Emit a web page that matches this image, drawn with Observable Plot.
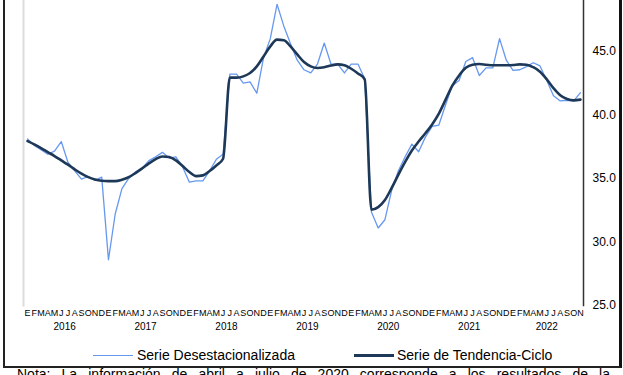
<!DOCTYPE html>
<html>
<head>
<meta charset="utf-8">
<script src="https://cdn.jsdelivr.net/npm/d3@7"></script>
<script src="https://cdn.jsdelivr.net/npm/@observablehq/plot@0.6"></script>
<style>
  html, body { margin: 0; padding: 0; background: #fff; overflow: hidden; }
  body { font-family: "Liberation Sans", Arial, sans-serif; color: #000; }
  #wrap { position: relative; width: 623px; height: 375px; overflow: hidden; }
  #chart { position: absolute; left: 0; top: 0; }
  #frame { position: absolute; left: 3px; top: -10px; width: 619px; height: 378px; box-sizing: border-box;
           border-left: 2px solid #222; border-right: 3px solid #111; border-bottom: 2px solid #222; }
  #legend { position: absolute; top: 347px; left: 93px; display: flex; align-items: center; font-size: 14px; line-height: 16px; white-space: nowrap; }
  .sw { display: inline-block; width: 40px; height: 0; }
  #note { position: absolute; top: 367px; left: 17px; width: 593px; font-size: 14px; line-height: 14px;
          text-align: justify; text-align-last: justify; }
</style>
</head>
<body>
<div id="wrap">
  <div id="chart"></div>
  <div id="frame"></div>
  <div id="legend"></div>
  <div id="note"></div>
</div>
<script>
// ---- data ----
const monthLetters = ["E","F","M","A","M","J","J","A","S","O","N","D"];
const startYear = 2016;
const years = [2016, 2017, 2018, 2019, 2020, 2021, 2022];
const yTicks = [25, 30, 35, 40, 45];
const seriesNames = ["Serie Desestacionalizada", "Serie de Tendencia-Ciclo"];
const noteText = "Nota: La información de abril a julio de 2020 corresponde a los resultados de la";

// Serie desestacionalizada, ene-2016 .. nov-2022
const desestacionalizada = [
  38.1, 37.6, 37.25, 36.9, 37.15, 37.9, 36.25, 35.6, 34.95, 35.15, 34.85, 35.1,
  28.6, 32.2, 34.2, 35.0, 35.5, 35.8, 36.4, 36.7, 37.05, 36.6, 36.7, 35.9,
  34.7, 34.8, 34.8, 35.6, 36.5, 36.9, 43.2, 43.2, 42.5, 42.6, 41.7, 44.5,
  46.0, 48.7, 47.0, 45.6, 44.3, 43.55, 43.3, 44.0, 45.65, 44.0, 44.0, 43.3,
  44.0, 44.0, 42.85, 32.35, 31.1, 31.75, 34.06, 35.6, 36.7, 37.7, 37.1, 38.25,
  39.1, 39.2, 40.8, 42.3, 42.7, 44.2, 44.5, 43.1, 43.7, 43.7, 46.0, 44.3,
  43.5, 43.55, 43.8, 44.1, 43.85, 42.7, 41.5, 41.1, 41.15, 41.1, 41.75
];

// Serie de tendencia-ciclo, ene-2016 .. nov-2022
const tendenciaCiclo = [
  37.94, 37.68, 37.39, 37.07, 36.76, 36.42, 36.08, 35.71, 35.37, 35.1, 34.92, 34.82,
  34.79, 34.79, 34.9, 35.1, 35.42, 35.79, 36.18, 36.52, 36.73, 36.68, 36.42, 35.97,
  35.5, 35.18, 35.24, 35.58, 36.02, 36.55, 42.93, 42.93, 43.03, 43.29, 43.82, 44.6,
  45.39, 45.92, 45.87, 45.39, 44.76, 44.16, 43.82, 43.69, 43.75, 43.88, 43.97, 43.9,
  43.63, 43.26, 42.8, 32.53, 32.74, 33.3, 34.25, 35.3, 36.3, 37.2, 37.9, 38.55,
  39.25, 40.1, 41.2, 42.3, 43.1, 43.7, 43.95, 44.0, 43.95, 43.9, 43.9, 43.9,
  43.92, 43.97, 43.95, 43.75, 43.4, 42.8, 42.1, 41.55, 41.25, 41.14, 41.2
];

// ---- build ----
const n = desestacionalizada.length;
const desRows = desestacionalizada.map((v, i) => ({i, v}));
const tenRows = tendenciaCiclo.map((v, i) => ({i, v}));
const yearCenters = years.map(y => {
  const first = (y - startYear) * 12;
  const last = Math.min(first + 11, n - 1);
  return (first + last) / 2;
});

const colors = {des: "#6798f0", ten: "#1e3858"};

const chart = Plot.plot({
  width: 623,
  height: 335,
  marginLeft: 23,
  marginRight: 40,
  marginTop: 0,
  marginBottom: 30,
  style: {fontFamily: '"Liberation Sans", Arial, sans-serif', background: "transparent", color: "#000", overflow: "visible"},
  x: {type: "linear", domain: [-0.6, n - 0.55]},
  y: {domain: [25, 49]},
  marks: [
    Plot.frame({anchor: "left", stroke: "#dcdcdc", strokeWidth: 2}),
    Plot.frame({anchor: "right", stroke: "#333", strokeWidth: 1.5}),
    Plot.axisY({anchor: "right", ticks: yTicks, tickFormat: d => d.toFixed(1), tickSize: 0, tickPadding: 9, fontSize: 12, label: null}),
    Plot.axisX({ticks: d3.range(n), tickFormat: i => monthLetters[i % 12], tickSize: 0, tickPadding: 4, fontSize: 9, label: null}),
    Plot.axisX({ticks: yearCenters, tickFormat: d => String(startYear + Math.floor(d / 12)), tickSize: 0, tickPadding: 17, fontSize: 10, label: null}),
    Plot.line(desRows, {x: "i", y: "v", stroke: colors.des, strokeWidth: 1.3}),
    Plot.line(tenRows, {x: "i", y: "v", stroke: colors.ten, strokeWidth: 2.6, curve: "monotone-x"})
  ]
});
document.getElementById("chart").appendChild(chart);

// legend
const legend = document.getElementById("legend");
legend.innerHTML =
  `<span class="sw" style="border-top:1.5px solid ${colors.des}"></span>` +
  `<span style="margin-left:4px">${seriesNames[0]}</span>` +
  `<span class="sw" style="border-top:3px solid ${colors.ten};margin-left:59px"></span>` +
  `<span style="margin-left:3px">${seriesNames[1]}</span>`;

// note
document.getElementById("note").textContent = noteText;
</script>
</body>
</html>
